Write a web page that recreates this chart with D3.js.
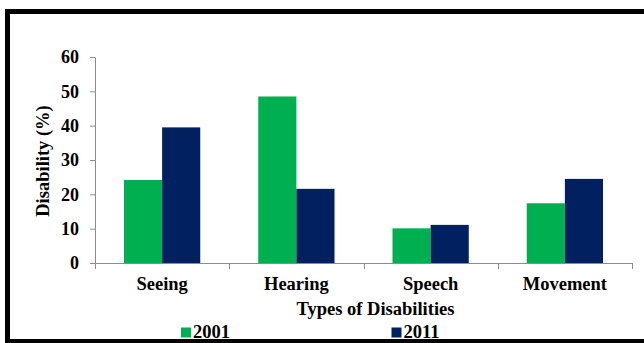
<!DOCTYPE html>
<html><head><meta charset="utf-8">
<script src="https://cdn.jsdelivr.net/npm/d3@7"></script>
<style>
html,body{margin:0;padding:0;background:#fff;}
svg{display:block;font-family:"Liberation Serif","Times New Roman",serif;font-weight:bold;}
</style></head>
<body>
<svg id="c" width="644" height="343"></svg>
<script>
const categories = ["Seeing","Hearing","Speech","Movement"];
const seriesNames = ["2001","2011"];
const values2001 = [24.2, 48.5, 10.1, 17.4];
const values2011 = [39.5, 21.6, 11.1, 24.5];
const yTicks = [0,10,20,30,40,50,60];
const colors = ["#00B050","#002060"];

const svg = d3.select("#c");
// frame
svg.append("rect").attr("x",7.5).attr("y",11.5).attr("width",700).attr("height",330)
  .attr("fill","none").attr("stroke","#000").attr("stroke-width",5);

const pLeft=95, pRight=632, pTop=57, pBottom=263;
const x = d3.scaleBand().domain(categories).range([pLeft,pRight]);
const x1 = d3.scaleBand().domain(seriesNames).range([29, x.bandwidth()-29]);
const y = d3.scaleLinear().domain([0,60]).range([pBottom, pTop]);

const data = categories.map((c,i)=>({c, vals:[values2001[i], values2011[i]]}));

// bars
const g = svg.append("g");
data.forEach(d=>{
  d.vals.forEach((v,j)=>{
    g.append("rect")
      .attr("x", x(d.c)+x1(seriesNames[j]))
      .attr("y", y(v))
      .attr("width", x1.bandwidth())
      .attr("height", y(0)-y(v))
      .attr("fill", colors[j]);
  });
});

// y axis
const ya = svg.append("g").attr("transform",`translate(${pLeft},0)`)
  .call(d3.axisLeft(y).tickValues(yTicks).tickSize(5).tickSizeOuter(0).tickPadding(11).tickFormat(d3.format("d")));
ya.select(".domain").attr("stroke","#8c8c8c");
ya.selectAll(".tick line").attr("stroke","#8c8c8c");
ya.selectAll(".tick text").attr("font-size",18).attr("font-family","Liberation Serif").attr("font-weight","bold").attr("fill","#000");

// x axis line and ticks at band boundaries
svg.append("line").attr("x1",pLeft).attr("x2",pRight).attr("y1",y(0)+0.5).attr("y2",y(0)+0.5).attr("stroke","#8c8c8c");
const bounds = categories.map(c=>x(c)).concat([x(categories[categories.length-1])+x.bandwidth()]);
svg.selectAll(".xt").data(bounds).enter().append("line")
  .attr("x1",d=>Math.round(d)+0.5).attr("x2",d=>Math.round(d)+0.5)
  .attr("y1",y(0)).attr("y2",y(0)+6).attr("stroke","#8c8c8c");

// category labels
svg.selectAll(".xl").data(categories).enter().append("text")
  .attr("x",d=>x(d)+x.bandwidth()/2).attr("y",290)
  .attr("text-anchor","middle").attr("font-size",18.5).text(d=>d);

// axis titles
svg.append("text").attr("x",375.5).attr("y",315).attr("text-anchor","middle")
  .attr("font-size",18.5).text("Types of Disabilities");
svg.append("text").attr("transform","translate(49,161) rotate(-90)")
  .attr("text-anchor","middle").attr("font-size",18.5).text("Disability (%)");

// legend
const legX = [181, 391.5];
seriesNames.forEach((s,j)=>{
  svg.append("rect").attr("x",legX[j]).attr("y",327.5).attr("width",10).attr("height",10).attr("fill",colors[j]);
  svg.append("text").attr("x",legX[j]+12).attr("y",337.5).attr("font-size",18.5).text(s);
});
</script>
</body></html>
